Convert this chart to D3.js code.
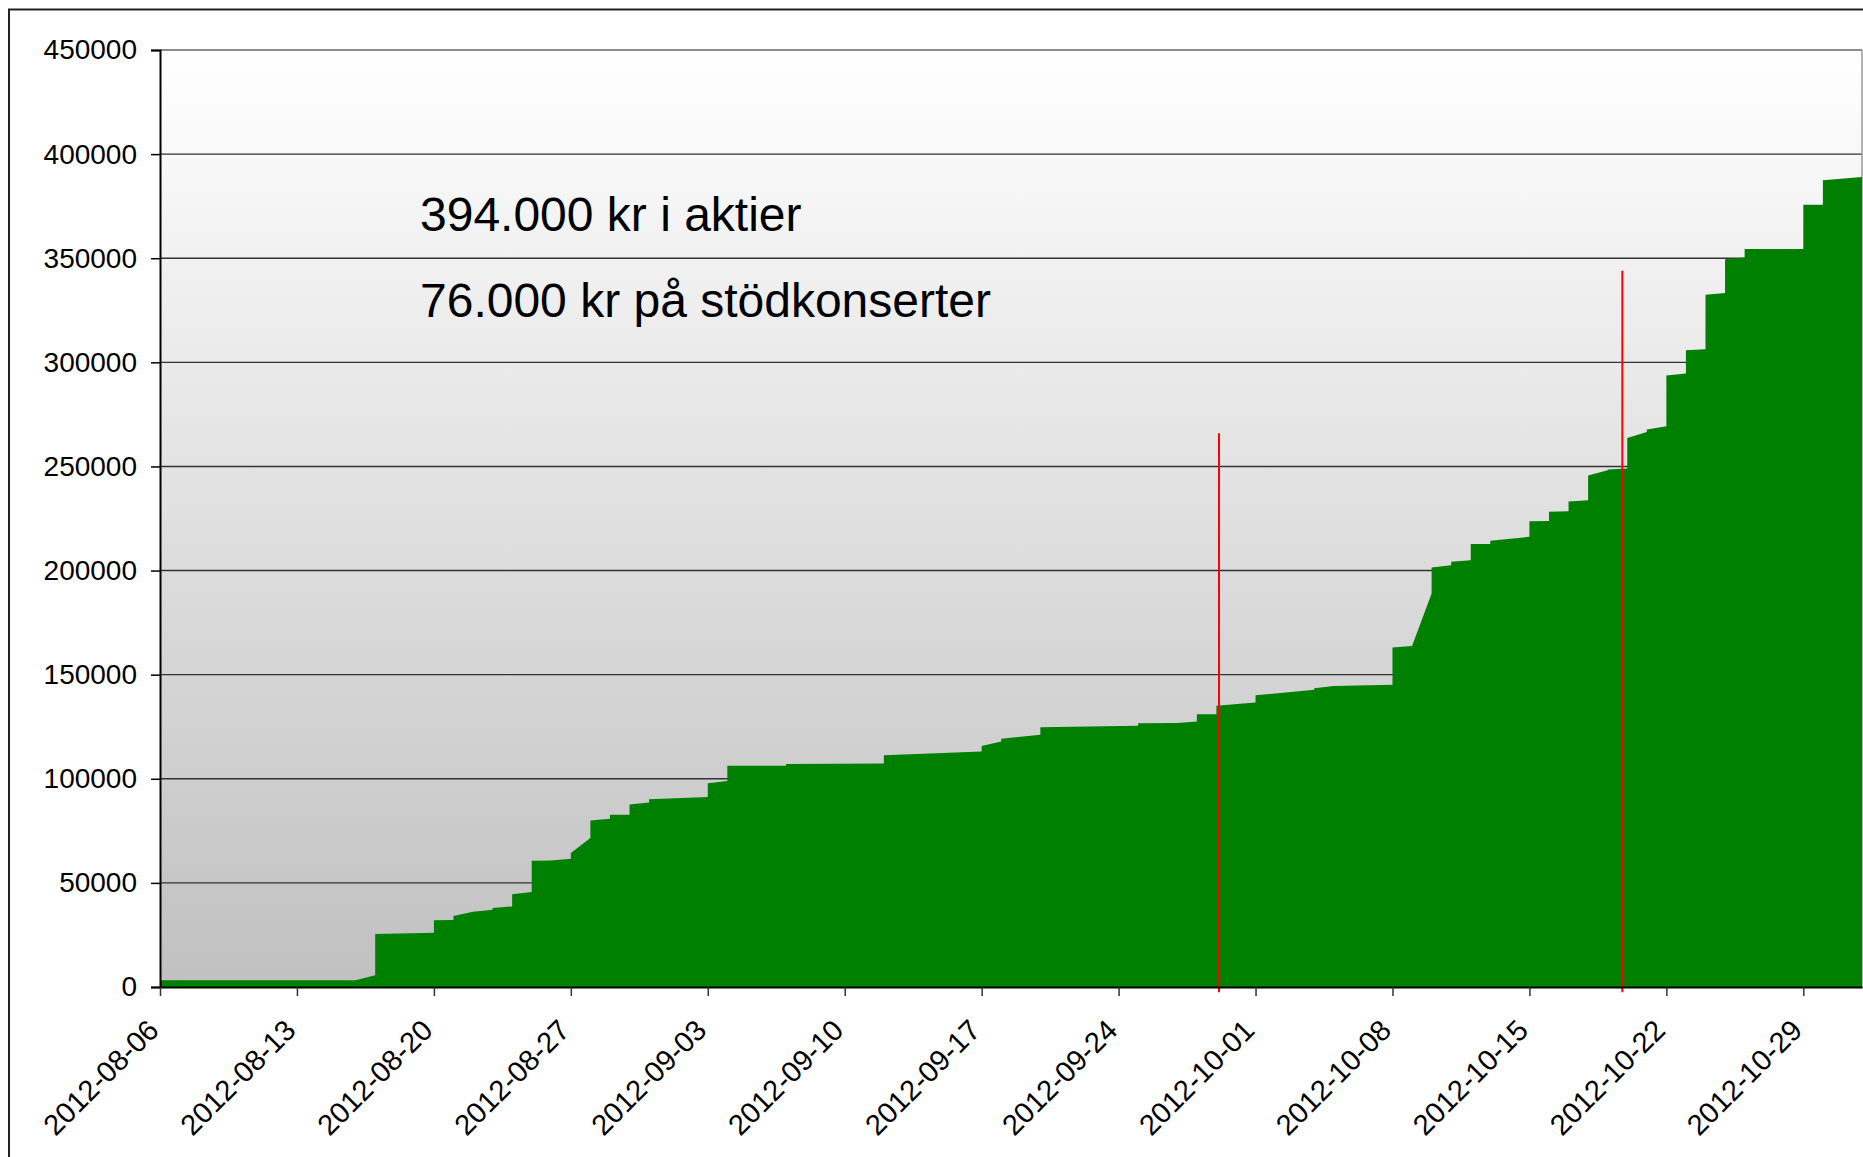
<!DOCTYPE html>
<html>
<head>
<meta charset="utf-8">
<script src="https://cdn.jsdelivr.net/npm/d3@7"></script>
<style>
  html, body { margin: 0; padding: 0; background: #fff; }
  svg { display: block; }
  text { font-family: "Liberation Sans", Arial, sans-serif; fill: #000; }
</style>
</head>
<body>
<svg id="chart" width="1863" height="1157"></svg>
<script>
// ---------- DATA ----------
const timestamps = [
  "2012-08-06", "2012-08-16", "2012-08-17", "2012-08-17", "2012-08-20", "2012-08-20",
  "2012-08-21", "2012-08-21", "2012-08-22", "2012-08-23", "2012-08-23", "2012-08-24",
  "2012-08-24", "2012-08-25", "2012-08-25", "2012-08-26", "2012-08-27", "2012-08-27",
  "2012-08-28", "2012-08-28", "2012-08-29", "2012-08-29", "2012-08-30", "2012-08-30",
  "2012-08-31", "2012-08-31", "2012-09-03", "2012-09-03", "2012-09-04", "2012-09-04",
  "2012-09-07", "2012-09-07", "2012-09-12", "2012-09-12", "2012-09-17", "2012-09-17",
  "2012-09-18", "2012-09-18", "2012-09-20", "2012-09-20", "2012-09-25", "2012-09-25",
  "2012-09-27", "2012-09-28", "2012-09-28", "2012-09-29", "2012-09-29", "2012-10-01",
  "2012-10-01", "2012-10-04", "2012-10-04", "2012-10-05", "2012-10-08", "2012-10-08",
  "2012-10-09", "2012-10-10", "2012-10-10", "2012-10-11", "2012-10-11", "2012-10-12",
  "2012-10-12", "2012-10-13", "2012-10-13", "2012-10-15", "2012-10-15", "2012-10-16",
  "2012-10-16", "2012-10-17", "2012-10-17", "2012-10-18", "2012-10-18", "2012-10-19",
  "2012-10-19", "2012-10-20", "2012-10-20", "2012-10-21", "2012-10-21", "2012-10-22",
  "2012-10-22", "2012-10-23", "2012-10-23", "2012-10-24", "2012-10-24", "2012-10-25",
  "2012-10-25", "2012-10-26", "2012-10-26", "2012-10-29", "2012-10-29", "2012-10-30",
  "2012-10-30", "2012-11-01"
];
const amounts = [
  3300, 3300, 5600, 25500, 26100, 32000,
  32200, 34100, 36100, 37100, 38000, 38700,
  44600, 45600, 60600, 60800, 61600, 64300,
  71500, 80000, 80800, 82700, 82700, 87700,
  88600, 90200, 91200, 97900, 98900, 106200,
  106300, 107100, 107300, 111300, 113100, 115700,
  117900, 119200, 121200, 124800, 125500, 126700,
  126800, 127500, 131000, 131000, 135100, 136600,
  140100, 142700, 143500, 144600, 145100, 163000,
  163800, 189000, 201500, 202500, 204200, 205000,
  212700, 212700, 214300, 216200, 223700, 223800,
  228200, 228500, 233200, 233800, 245700, 248200,
  248500, 249000, 263700, 266600, 267700, 269300,
  293700, 294600, 305800, 306300, 332500, 333300,
  349500, 350300, 354400, 354400, 375700, 375700,
  387400, 389000
];

// concert markers (red lines)
const markerTimes = ["2012-09-29T03:10", "2012-10-19T18:00"];
const markerTops = [266000, 344000];
const markerBottom = -2500;

const yTickValues = [0, 50000, 100000, 150000, 200000, 250000, 300000, 350000, 400000, 450000];
const xTickLabels = [
  "2012-08-06", "2012-08-13", "2012-08-20", "2012-08-27", "2012-09-03", "2012-09-10",
  "2012-09-17", "2012-09-24", "2012-10-01", "2012-10-08", "2012-10-15", "2012-10-22", "2012-10-29"
];
const xDomain = ["2012-08-06", "2012-11-01"];

const annotations = ["394.000 kr i aktier", "76.000 kr på stödkonserter"];

// ---------- LAYOUT ----------
const parse = s => new Date(s + (s.length === 10 ? "T00:00:00Z" : ":00Z"));
const plot = { left: 160, right: 1862, top: 50, bottom: 987 };

const svg = d3.select("#chart");

// outer frame
svg.append("rect")
  .attr("x", 9).attr("y", 9.5)
  .attr("width", 1900).attr("height", 1200)
  .attr("fill", "none").attr("stroke", "#222").attr("stroke-width", 2);

const x = d3.scaleUtc().domain(xDomain.map(parse)).range([plot.left, plot.right]);
const y = d3.scaleLinear().domain([0, 450000]).range([plot.bottom, plot.top]);

// gradient background
const defs = svg.append("defs");
const grad = defs.append("linearGradient").attr("id", "bg")
  .attr("x1", 0).attr("y1", 0).attr("x2", 0).attr("y2", 1);
grad.append("stop").attr("offset", "0%").attr("stop-color", "#ffffff");
grad.append("stop").attr("offset", "100%").attr("stop-color", "#c0c0c0");

svg.append("rect")
  .attr("x", plot.left).attr("y", plot.top)
  .attr("width", plot.right - plot.left).attr("height", plot.bottom - plot.top)
  .attr("fill", "url(#bg)");

// gridlines
svg.append("g")
  .selectAll("line")
  .data(yTickValues.filter(v => v > 0))
  .join("line")
  .attr("x1", plot.left).attr("x2", plot.right)
  .attr("y1", d => y(d)).attr("y2", d => y(d))
  .attr("stroke", d => d === 450000 ? "#666" : "#333")
  .attr("stroke-width", 1.4);

// right border
svg.append("line")
  .attr("x1", plot.right).attr("x2", plot.right)
  .attr("y1", plot.top).attr("y2", plot.bottom)
  .attr("stroke", "#999").attr("stroke-width", 1.5);

// area
const pts = timestamps.map((t, i) => ({ t: parse(t), v: amounts[i] }));
const area = d3.area()
  .x(d => x(d.t))
  .y0(y(0))
  .y1(d => y(d.v));
svg.append("path")
  .datum(pts)
  .attr("d", area)
  .attr("fill", "#008000");

// red marker lines
svg.append("g")
  .selectAll("line")
  .data(markerTimes.map((t, i) => ({ t: parse(t), top: markerTops[i] })))
  .join("line")
  .attr("x1", d => x(d.t)).attr("x2", d => x(d.t))
  .attr("y1", d => y(d.top)).attr("y2", y(markerBottom))
  .attr("stroke", "#ff0000").attr("stroke-width", 2);

// y axis
const yAxis = d3.axisLeft(y)
  .tickValues(yTickValues)
  .tickFormat(d3.format("d"))
  .tickSize(9)
  .tickPadding(14);
const gy = svg.append("g").attr("transform", `translate(${plot.left},0)`).call(yAxis);
gy.select(".domain").attr("stroke", "#000").attr("stroke-width", 2);
gy.selectAll(".tick line").attr("stroke", "#000").attr("stroke-width", 1.5);
gy.selectAll(".tick text")
  .attr("font-size", 28)
  .attr("font-family", "'Liberation Sans', Arial, sans-serif")
  .attr("fill", "#000");

// x axis
const xAxis = d3.axisBottom(x)
  .tickValues(xTickLabels.map(parse))
  .tickFormat(d3.utcFormat("%Y-%m-%d"))
  .tickSize(9)
  .tickSizeOuter(0);
const gx = svg.append("g").attr("transform", `translate(0,${plot.bottom})`).call(xAxis);
gx.select(".domain").attr("stroke", "#000").attr("stroke-width", 2);
gx.selectAll(".tick line").attr("stroke", "#333").attr("stroke-width", 1.5);
gx.selectAll(".tick text")
  .attr("font-size", 29)
  .attr("font-family", "'Liberation Sans', Arial, sans-serif")
  .attr("fill", "#000")
  .attr("text-anchor", "end")
  .attr("dy", 0)
  .attr("y", 0)
  .attr("transform", "translate(0,45) rotate(-45)");

// annotations
svg.append("g")
  .selectAll("text")
  .data(annotations)
  .join("text")
  .attr("x", 420)
  .attr("y", (d, i) => 231 + i * 86)
  .attr("font-size", 48)
  .text(d => d);
</script>
</body>
</html>
